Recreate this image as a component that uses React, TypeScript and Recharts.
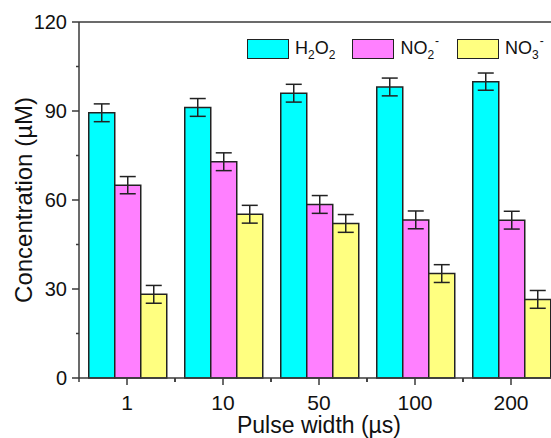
import React from "react"
import { BarChart, Bar, XAxis, YAxis, ErrorBar, Legend, ReferenceLine } from "recharts"

const pulseWidths = ["1", "10", "50", "100", "200"]
const h2o2 = [89.4, 91.2, 96.0, 98.1, 99.9]
const h2o2Err = [3.0, 3.0, 3.0, 3.0, 2.9]
const no2 = [65.0, 72.9, 58.5, 53.3, 53.2]
const no2Err = [2.9, 3.0, 3.0, 3.0, 3.0]
const no3 = [28.2, 55.2, 52.1, 35.2, 26.5]
const no3Err = [3.0, 3.0, 3.0, 3.0, 3.0]
const yTicks = [0, 15, 30, 45, 60, 75, 90, 105, 120]

const data = pulseWidths.map((name, i) => ({
  name,
  h2o2: h2o2[i],
  h2o2Err: h2o2Err[i],
  no2: no2[i],
  no2Err: no2Err[i],
  no3: no3[i],
  no3Err: no3Err[i],
}))

const FONT = "'Liberation Sans', Arial, sans-serif"
const AXIS = "#3a3a3a"
const BAND = 96

const Sub = ({ children }: any) => (
  <span style={{ fontSize: 12, position: "relative", top: 5 }}>{children}</span>
)
const Sup = ({ children }: any) => (
  <span style={{ fontSize: 12, position: "relative", top: -9, marginLeft: 1 }}>{children}</span>
)

const labelNode = (name: string) => {
  if (name === "H2O2")
    return (
      <>
        H<Sub>2</Sub>O<Sub>2</Sub>
      </>
    )
  const n = name === "NO2-" ? "2" : "3"
  return (
    <>
      NO<Sub>{n}</Sub>
      <Sup>-</Sup>
    </>
  )
}

const LegendContent = ({ payload }: any) => (
  <div style={{ display: "flex", alignItems: "center", fontFamily: FONT, fontSize: 18, color: "#111" }}>
    {(payload || []).map((p: any, i: number) => (
      <div
        key={p.value}
        style={{ display: "flex", alignItems: "center", marginRight: i === 0 ? 17 : 18, lineHeight: "20px", whiteSpace: "nowrap" }}
      >
        <span
          style={{
            width: 40,
            height: 18,
            background: p.color,
            border: "1.5px solid #222",
            marginRight: 6,
            display: "inline-block",
          }}
        />
        <span>{labelNode(p.value)}</span>
      </div>
    ))}
  </div>
)

const YTick = ({ x, y, payload }: any) => {
  const major = payload.value % 30 === 0
  return (
    <g>
      <line x1={x} x2={x - (major ? 7 : 3)} y1={y} y2={y} stroke={AXIS} strokeWidth={1.5} />
      {major && (
        <text x={x - 12} y={y} dy="0.36em" textAnchor="end" fontFamily={FONT} fontSize={20} fill="#111">
          {payload.value}
        </text>
      )}
    </g>
  )
}

const XTick = ({ x, y, payload }: any) => (
  <g>
    <line x1={x} x2={x} y1={y} y2={y + 7} stroke={AXIS} strokeWidth={1.5} />
    <line x1={x - BAND / 2} x2={x - BAND / 2} y1={y} y2={y + 4} stroke={AXIS} strokeWidth={1.5} />
    <line x1={x + BAND / 2} x2={x + BAND / 2} y1={y} y2={y + 4} stroke={AXIS} strokeWidth={1.5} />
    <text x={x} y={y + 32} textAnchor="middle" fontFamily={FONT} fontSize={21} fill="#111">
      {payload.value}
    </text>
  </g>
)

const YLabel = ({ viewBox }: any) => {
  const cx = viewBox.x + 32
  const cy = viewBox.y + viewBox.height / 2
  return (
    <text x={cx} y={cy} transform={`rotate(-90, ${cx}, ${cy})`} textAnchor="middle" fontFamily={FONT} fontSize={24} fill="#111">
      Concentration (µM)
    </text>
  )
}

const XLabel = ({ viewBox }: any) => (
  <text x={viewBox.x + viewBox.width / 2} y={viewBox.y + 55} textAnchor="middle" fontFamily={FONT} fontSize={23} fill="#111">
    Pulse width (µs)
  </text>
)

export default function App() {
  return (
    <div style={{ position: "fixed", left: 0, top: 0, width: 551, height: 438, overflow: "hidden", background: "#fff" }}>
      <BarChart
        width={570}
        height={438}
        data={data}
        margin={{ top: 22, right: 11, bottom: 0, left: 0 }}
        barCategoryGap={9.75}
        barGap={0}
      >
        <XAxis
          dataKey="name"
          height={60}
          axisLine={{ stroke: AXIS, strokeWidth: 1.5 }}
          tickLine={false}
          tickSize={0}
          tickMargin={0}
          tick={<XTick />}
          interval={0}
          label={<XLabel />}
        />
        <YAxis
          width={79}
          domain={[0, 120]}
          ticks={yTicks}
          axisLine={{ stroke: AXIS, strokeWidth: 1.5 }}
          tickLine={false}
          tickSize={0}
          tickMargin={0}
          tick={<YTick />}
          interval={0}
          label={<YLabel />}
        />
        <ReferenceLine y={120} stroke={AXIS} strokeWidth={1.5} />
        <Legend
          layout="vertical"
          align="center"
          verticalAlign="middle"
          content={<LegendContent />}
          wrapperStyle={{ left: 247, top: 38, width: 320, height: 24 }}
        />
        <Bar dataKey="h2o2" name="H2O2" fill="#00FFFF" stroke="#222" strokeWidth={1.5} isAnimationActive={false}>
          <ErrorBar dataKey="h2o2Err" width={8} stroke="#222" strokeWidth={1.5} isAnimationActive={false} />
        </Bar>
        <Bar dataKey="no2" name="NO2-" fill="#FF80FF" stroke="#222" strokeWidth={1.5} isAnimationActive={false}>
          <ErrorBar dataKey="no2Err" width={8} stroke="#222" strokeWidth={1.5} isAnimationActive={false} />
        </Bar>
        <Bar dataKey="no3" name="NO3-" fill="#FFFF80" stroke="#222" strokeWidth={1.5} isAnimationActive={false}>
          <ErrorBar dataKey="no3Err" width={8} stroke="#222" strokeWidth={1.5} isAnimationActive={false} />
        </Bar>
      </BarChart>
    </div>
  )
}
